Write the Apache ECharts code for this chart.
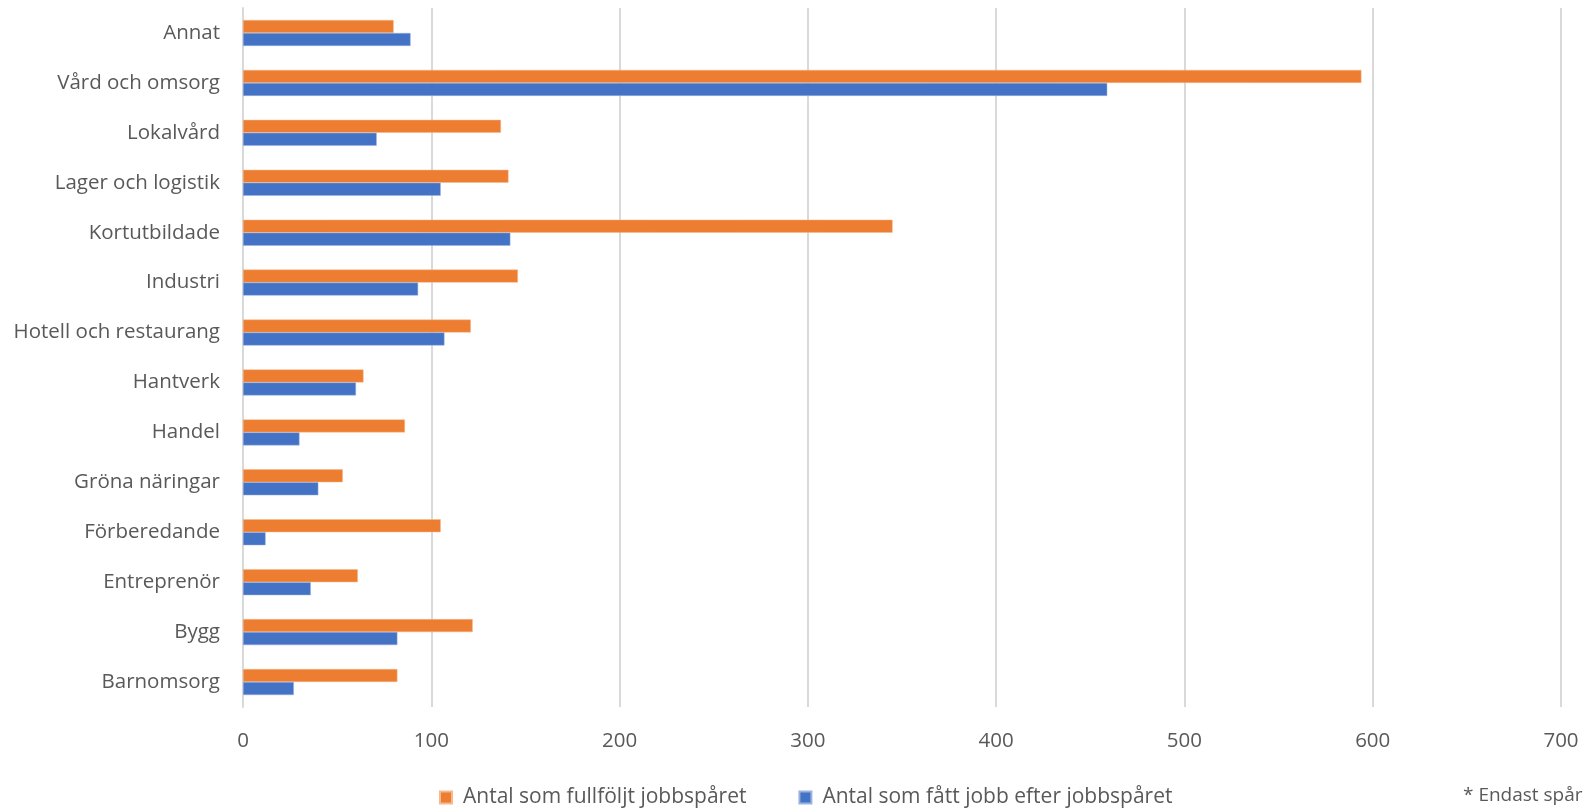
<!DOCTYPE html>
<html>
<head>
<meta charset="utf-8">
<script src="https://cdn.jsdelivr.net/npm/echarts@6/dist/echarts.min.js"></script>
<style>html,body{margin:0;padding:0;background:#fff;}#c{width:1583px;height:809px;}</style>
</head>
<body>
<div id="c"></div>
<script>
const categories = ["Annat","Vård och omsorg","Lokalvård","Lager och logistik","Kortutbildade","Industri","Hotell och restaurang","Hantverk","Handel","Gröna näringar","Förberedande","Entreprenör","Bygg","Barnomsorg"];
const fullfoljt = [80,594,137,141,345,146,121,64,86,53,105,61,122,82];
const fattJobb = [89,459,71,105,142,93,107,60,30,40,12,36,82,27];
const xTicks = [0,100,200,300,400,500,600,700];
const seriesNames = ["Antal som fullföljt jobbspåret","Antal som fått jobb efter jobbspåret"];
const footnote = "* Endast spår";

const chart = echarts.init(document.getElementById('c'));
const font = "'Open Sans', sans-serif";
chart.setOption({
  animation:false,
  textStyle:{fontFamily:font},
  grid:{left:243,right:22,top:8,bottom:102,containLabel:false},
  xAxis:{type:'value',min:xTicks[0],max:xTicks[xTicks.length-1],interval:100,
    axisLine:{show:false},axisTick:{show:false},
    splitLine:{lineStyle:{color:'#d9d9d9',width:2}},
    axisLabel:{color:'#595959',fontSize:20.5,fontFamily:font,margin:24}},
  yAxis:{type:'category',data:categories,inverse:true,
    axisLine:{show:true,lineStyle:{color:'#d9d9d9',width:2}},axisTick:{show:false},
    axisLabel:{color:'#595959',fontSize:20.5,fontFamily:font,margin:23}},
  legend:{top:782,left:434,itemWidth:12,itemHeight:12,itemGap:52,icon:'rect',
    textStyle:{color:'#595959',fontSize:21,fontFamily:font,padding:[0,0,0,6]},
    data:seriesNames},
  series:[
    {name:seriesNames[0],type:'bar',data:fullfoljt,barWidth:13,barGap:'0%',itemStyle:{color:'#ed7d31',borderColor:'#f5b98f',borderWidth:0.5}},
    {name:seriesNames[1],type:'bar',data:fattJobb,barWidth:13,barGap:'0%',itemStyle:{color:'#4472c4',borderColor:'#9ab2e0',borderWidth:0.5}}
  ],
  graphic:[{type:'text',left:1463,top:786,style:{text:footnote,fill:'#595959',fontSize:19,fontFamily:font}}]
});
</script>
</body>
</html>
